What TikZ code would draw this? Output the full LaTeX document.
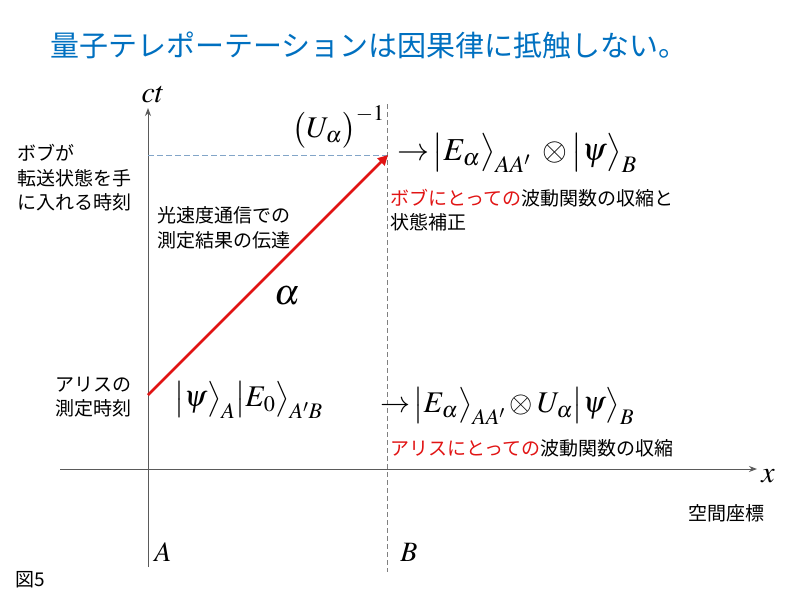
\documentclass[tikz,border=0pt]{standalone}
\usepackage{mathptmx}
\usepackage{fontspec}
\newfontfamily\jp{Noto Sans CJK JP}
\usetikzlibrary{arrows.meta}
\definecolor{titleblue}{RGB}{0,112,192}
\definecolor{myred}{RGB}{225,20,20}
\definecolor{dashblue}{RGB}{130,165,200}
\definecolor{axisgray}{RGB}{90,90,90}
\begin{document}
\begin{tikzpicture}[x=1pt,y=-1pt,
  jptext/.style={font=\jp\fontsize{19}{24.5}\selectfont, anchor=west, inner sep=0, align=left},
  mathtext/.style={font=\fontsize{30}{34}\selectfont, anchor=west, inner sep=0},
  axis/.style={draw=axisgray, line width=1pt, -{Stealth[length=8pt,width=6pt]}},
  dashv/.style={draw=gray, line width=0.9pt, dash pattern=on 5pt off 3pt},
  dashh/.style={draw=dashblue, line width=0.9pt, dash pattern=on 6pt off 3pt},
  signal/.style={draw=myred, line width=2.5pt, -{Triangle[length=10pt,width=10pt]}}]
\useasboundingbox (0,0) rectangle (800,600);

% title
\node[anchor=west, inner sep=0, text=titleblue, font=\jp\fontsize{29}{34}\selectfont] (title) at (50,45) {量子テレポーテーションは因果律に抵触しない。};

% axes
\coordinate (ctbot) at (148,567);
\coordinate (cttop) at (148,108);
\coordinate (xleft) at (60,469);
\coordinate (xright) at (757,469);
\draw[axis] (ctbot) -- (cttop);
\draw[axis] (xleft) -- (xright);
\node[font=\fontsize{30}{34}\selectfont, inner sep=0] (ct) at (153,95) {$ct$};
\node[font=\fontsize{30}{34}\selectfont, inner sep=0] (xl) at (768,476) {$x$};

% dashed lines
\coordinate (btop) at (387,104);
\coordinate (bbot) at (387,572);
\draw[dashv] (btop) -- (bbot);
\coordinate (hleft) at (148,155);
\coordinate (hright) at (387,155);
\draw[dashh] (hleft) -- (hright);

% signal
\coordinate (sstart) at (148,395);
\coordinate (send) at (388,155);
\draw[signal] (sstart) -- (send);
\node[font=\fontsize{36}{40}\selectfont, inner sep=0] (alpha) at (287,296) {$\alpha$};

% math
\node[mathtext, anchor=east] (uinv) at (385,127) {$\bigl(U_\alpha\bigr)^{-1}$};
\node[mathtext, font=\fontsize{32}{36}\selectfont] (bobstate) at (397,153) {${\rightarrow}\,\bigl|E_\alpha\bigr\rangle_{AA'}\;\otimes\bigl|\psi\bigr\rangle_B$};
\node[mathtext] (init) at (174,400) {$\bigl|\psi\bigr\rangle_A\bigl|E_0\bigr\rangle_{A'B}$};
\node[mathtext] (alicestate) at (380,406) {${\rightarrow}\,\bigl|E_\alpha\bigr\rangle_{AA'}\otimes U_\alpha\bigl|\psi\bigr\rangle_B$};

% japanese labels
\node[jptext] (bobcol) at (390,210) {\textcolor{myred}{ボブにとっての}波動関数の収縮と\\状態補正};
\node[jptext] (comm) at (157,228) {光速度通信での\\測定結果の伝達};
\node[jptext] (bobtime) at (17,178) {ボブが\\転送状態を手\\に入れる時刻};
\node[jptext] (alicetime) at (55,397) {アリスの\\測定時刻};
\node[jptext] (alicecol) at (390,448) {\textcolor{myred}{アリスにとっての}波動関数の収縮};
\node[jptext] (space) at (688,513) {空間座標};
\node[jptext] (fig) at (15,580) {図5};

\node[font=\fontsize{28}{32}\selectfont, inner sep=0] (la) at (163,552) {$A$};
\node[font=\fontsize{28}{32}\selectfont, inner sep=0] (lb) at (409,552) {$B$};
\end{tikzpicture}
\end{document}
